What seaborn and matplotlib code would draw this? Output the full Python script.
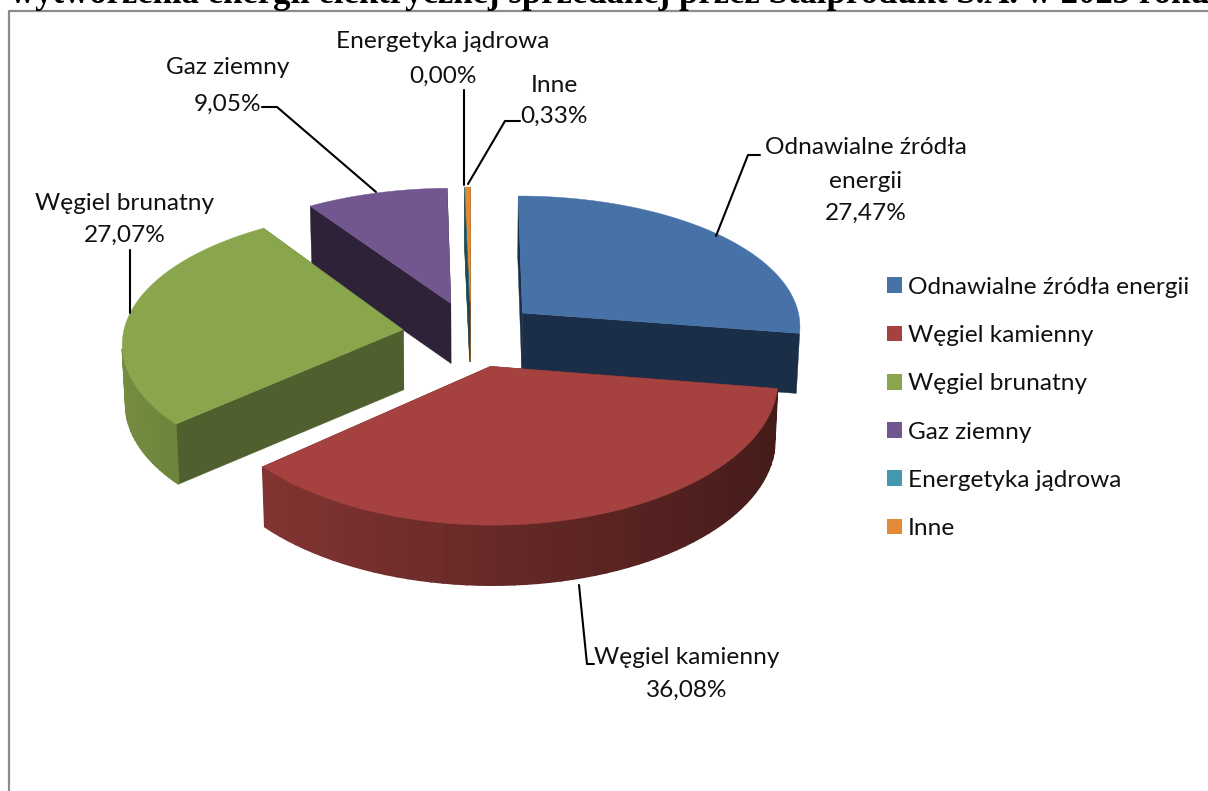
import numpy as np
import matplotlib
matplotlib.use('Agg')
import matplotlib.pyplot as plt
from matplotlib.patches import Patch
import seaborn as sns

# wykres kolowy 3D z wysunietymi wycinkami

zrodla = ['Odnawialne źródła energii', 'Węgiel kamienny', 'Węgiel brunatny',
          'Gaz ziemny', 'Energetyka jądrowa', 'Inne']
udzialy = [27.47, 36.08, 27.07, 9.05, 0.00, 0.33]
kolory = ['#4672a8', '#a5423f', '#8aa64c', '#72568f', '#4198af', '#e28a35']
kolory_ciecia = ['#1b2e47', '#5e2422', '#4f5f2d', '#2e2239', '#1e4a50', '#7d4c1d']
tytul = 'wytworzenia energii elektrycznej sprzedanej przez Stalprodukt S.A. w 2023 roku'

sns.set_theme(style='white')
plt.rcParams['font.family'] = ['Lato', 'DejaVu Sans']

CX, CY = 471, 334
RX, RY = 280, 134
K_X, K_Y = 0.09, 0.1085
WYSUNIECIE = 0.245
GLEBOKOSC = 60
paleta = sns.color_palette(kolory)


def rzut(u, v):
    return CX + RX * u / (1 - K_X * v), CY + RY * v / (1 - K_Y * v)


def dol(x, y):
    return CX + (x - CX) * 0.99, y + GLEBOKOSC


def rysuj_wycinek(ax, start, koniec, kolor, kolor_ciecia, z=0):
    srodek = np.radians((start + koniec) / 2)
    a0 = WYSUNIECIE * np.sin(srodek)
    b0 = -WYSUNIECIE * np.cos(srodek)
    katy = np.radians(np.linspace(start, koniec, 60))
    xs, ys = rzut(a0 + np.sin(katy), b0 - np.cos(katy))
    ax0, ay0 = rzut(a0, b0)

    # sciany ciecia
    for i in (0, -1):
        dx0, dy0 = dol(ax0, ay0)
        dx1, dy1 = dol(xs[i], ys[i])
        ax.fill([ax0, xs[i], dx1, dx0], [ay0, ys[i], dy1, dy0],
                color=kolor_ciecia, lw=0.3, zorder=2 + z)

    # sciana zewnetrzna z cieniowaniem
    dxs, dys = dol(xs, ys)
    for i in range(len(katy) - 1):
        if np.cos(katy[i]) > -0.15:
            continue
        jasnosc = 0.63 - 0.22 * np.sin(katy[i])
        c = np.array(matplotlib.colors.to_rgb(kolor)) * jasnosc
        ax.fill([xs[i], xs[i + 1], dxs[i + 1], dxs[i]],
                [ys[i], ys[i + 1], dys[i + 1], dys[i]],
                color=c, lw=1.2, zorder=3)

    # wierzch
    ax.fill(np.r_[ax0, xs], np.r_[ay0, ys], color=kolor, lw=0.3, zorder=5)


fig = plt.figure(figsize=(12.08, 7.91), dpi=100)
ax = fig.add_axes([0, 0, 1, 1])
ax.set_xlim(0, 1208)
ax.set_ylim(791, 0)
ax.axis('off')

kat = 0.0
for i, wartosc in enumerate(udzialy):
    nowy = kat + wartosc / sum(udzialy) * 360
    # zerowy wycinek (energetyka) ma tylko sciane ciecia, nad sciana "Inne"
    rysuj_wycinek(ax, kat, nowy, paleta[i], kolory_ciecia[i], z=1 if wartosc == 0 else 0)
    kat = nowy

# ramka i uciety tytul
ax.plot([9, 9, 1208], [791, 11, 11], color='#8c8c8c', lw=1.6, zorder=6)
ax.text(10, 3, tytul, family='Liberation Serif', fontweight='bold', fontsize=25,
        color='black', ha='left', va='baseline', zorder=7)

# etykiety
etykieta = dict(fontsize=17.6, color='#111111', ha='center', va='center', zorder=8)
ax.text(443, 42, 'Energetyka jądrowa', **etykieta)
ax.text(443, 76, '0,00%', **etykieta)
ax.text(228, 68, 'Gaz ziemny', **etykieta)
ax.text(228, 104, '9,05%', **etykieta)
ax.text(554, 85, 'Inne', **etykieta)
ax.text(554, 116, '0,33%', **etykieta)
ax.text(866, 148, 'Odnawialne źródła', **etykieta)
ax.text(866, 181, 'energii', **etykieta)
ax.text(866, 213, '27,47%', **etykieta)
ax.text(125, 203, 'Węgiel brunatny', **etykieta)
ax.text(125, 235, '27,07%', **etykieta)
ax.text(687, 657, 'Węgiel kamienny', **etykieta)
ax.text(687, 690, '36,08%', **etykieta)

# linie odniesienia
linie = [([760, 748, 716], [155, 155, 236]),
         ([130, 130], [250, 313]),
         ([594, 587, 579], [664, 664, 585]),
         ([262, 277, 376], [107, 107, 192]),
         ([464, 464], [90, 185]),
         ([520, 505, 468], [121, 121, 184])]
for lx, ly in linie:
    ax.plot(lx, ly, color='black', lw=1.5, zorder=8)

uchwyty = [Patch(facecolor=c, edgecolor='none') for c in paleta]
ax.legend(uchwyty, zrodla, loc='upper left', bbox_to_anchor=(880 / 1208, 1 - 269.5 / 791),
          frameon=False, fontsize=17.6, labelspacing=1.115, handlelength=0.62,
          handleheight=0.62, handletextpad=0.22, borderaxespad=0, borderpad=0.3,
          labelcolor='#111111')

fig.savefig('out.png', dpi=100)
